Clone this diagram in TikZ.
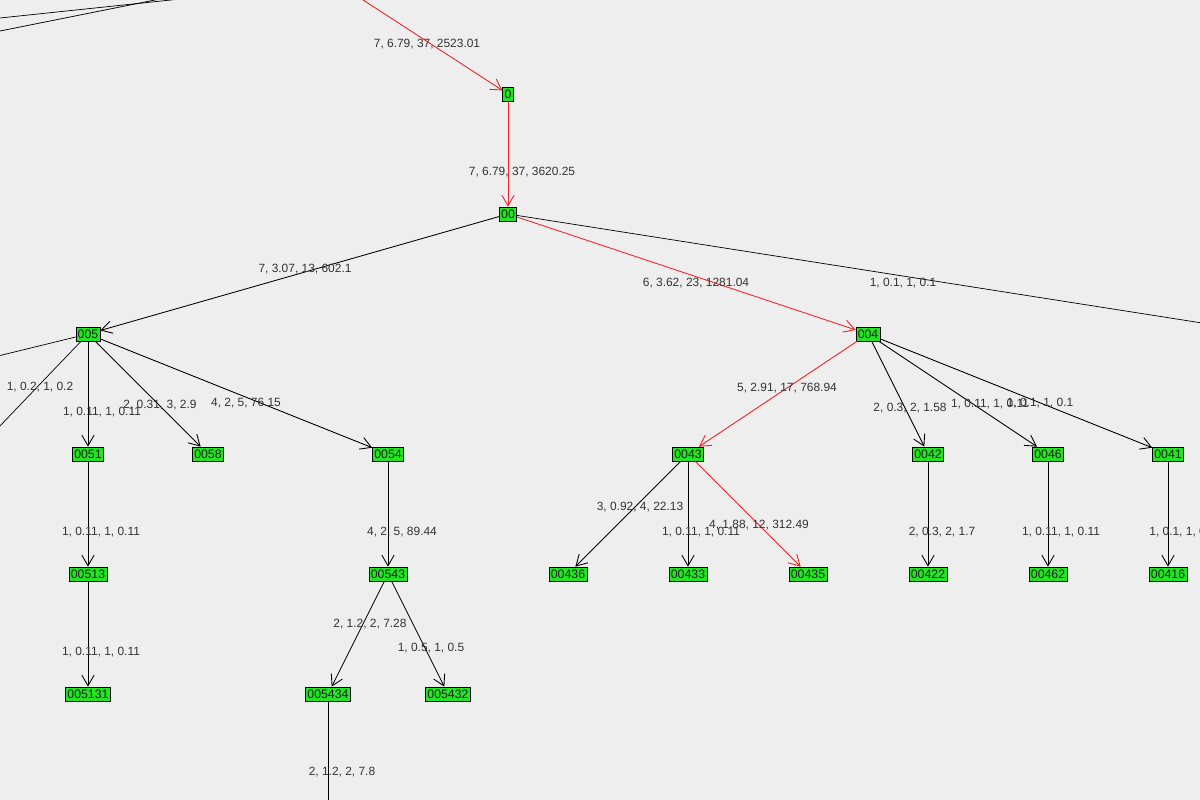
\documentclass[tikz,border=0pt]{standalone}
\usepackage{fontspec}
\setmainfont{Liberation Sans}
\usetikzlibrary{arrows.meta}
\definecolor{bg}{HTML}{EEEEEE}
\definecolor{leaf}{HTML}{22E622}
\definecolor{txt}{HTML}{333333}
\definecolor{hot}{HTML}{EE2222}
\begin{document}
\begin{tikzpicture}[x=0.02cm, y=-0.02cm,
    box/.style={draw, fill=leaf, inner sep=1pt, minimum height=0.28cm, font=\fontsize{7}{8}\selectfont, text=txt!60!black},
    lbl/.style={font=\fontsize{6.8}{8}\selectfont, text=txt, inner sep=0pt},
    arc/.style={-{Straight Barb[angle=60:7pt]}, line width=0.5pt},
    path/.style={arc, draw=hot}]
    \fill[bg] (0,0) rectangle (1200,800);
    \useasboundingbox (0,0) rectangle (1200,800);
    % nodes
    \node[box] (n0) at (508,94) {0};
    \node[box] (n00) at (508,214) {00};
    \node[box] (n005) at (88,334) {005};
    \node[box] (n004) at (868,334) {004};
    \node[box] (n0051) at (88,454) {0051};
    \node[box] (n0058) at (208,454) {0058};
    \node[box] (n0054) at (388,454) {0054};
    \node[box] (n0043) at (688,454) {0043};
    \node[box] (n0042) at (928,454) {0042};
    \node[box] (n0046) at (1048,454) {0046};
    \node[box] (n0041) at (1168,454) {0041};
    \node[box] (n00513) at (88,574) {00513};
    \node[box] (n00543) at (388,574) {00543};
    \node[box] (n00436) at (568,574) {00436};
    \node[box] (n00433) at (688,574) {00433};
    \node[box] (n00435) at (808,574) {00435};
    \node[box] (n00422) at (928,574) {00422};
    \node[box] (n00462) at (1048,574) {00462};
    \node[box] (n00416) at (1168,574) {00416};
    \node[box] (n005131) at (88,694) {005131};
    \node[box] (n005434) at (328,694) {005434};
    \node[box] (n005432) at (448,694) {005432};
    % off-screen ends
    \coordinate (top) at (360,-2);
    \coordinate (ta) at (190,-2);
    \coordinate (tb) at (0,18);
    \coordinate (tc) at (165,-2);
    \coordinate (td) at (0,31);
    \coordinate (la) at (-2,356);
    \coordinate (lb) at (-2,428);
    \coordinate (ra) at (1202,323);
    \coordinate (dn) at (328,802);
    % connectors
    \draw (tb) -- (ta);
    \draw (td) -- (tc);
    \draw[path] (top) -- (n0);
    \draw[path] (n0) -- (n00);
    \draw[arc] (n00) -- (n005);
    \draw[path] (n00) -- (n004);
    \draw (n00) -- (ra);
    \draw (n005) -- (la);
    \draw (n005) -- (lb);
    \draw[arc] (n005) -- (n0051);
    \draw[arc] (n005) -- (n0058);
    \draw[arc] (n005) -- (n0054);
    \draw[path] (n004) -- (n0043);
    \draw[arc] (n004) -- (n0042);
    \draw[arc] (n004) -- (n0046);
    \draw[arc] (n004) -- (n0041);
    \draw[arc] (n0051) -- (n00513);
    \draw[arc] (n0054) -- (n00543);
    \draw[arc] (n0043) -- (n00436);
    \draw[arc] (n0043) -- (n00433);
    \draw[path] (n0043) -- (n00435);
    \draw[arc] (n0042) -- (n00422);
    \draw[arc] (n0046) -- (n00462);
    \draw[arc] (n0041) -- (n00416);
    \draw[arc] (n00513) -- (n005131);
    \draw[arc] (n00543) -- (n005434);
    \draw[arc] (n00543) -- (n005432);
    \draw (n005434) -- (dn);
    % labels
    \node[lbl] (l1) at (427,44) {7, 6.79, 37, 2523.01};
    \node[lbl] (l2) at (522,172) {7, 6.79, 37, 3620.25};
    \node[lbl] (l3) at (305,269) {7, 3.07, 13, 602.1};
    \node[lbl] (l4) at (696,283) {6, 3.62, 23, 1281.04};
    \node[lbl] (l5) at (903,283) {1, 0.1, 1, 0.1};
    \node[lbl] (l6) at (40,387) {1, 0.2, 1, 0.2};
    \node[lbl] (l7) at (102,412) {1, 0.11, 1, 0.11};
    \node[lbl] (l8) at (160,405) {2, 0.31, 3, 2.9};
    \node[lbl] (l9) at (246,403) {4, 2, 5, 76.15};
    \node[lbl] (l10) at (787,388) {5, 2.91, 17, 768.94};
    \node[lbl] (l11) at (910,408) {2, 0.3, 2, 1.58};
    \node[lbl] (l12) at (990,404) {1, 0.11, 1, 0.11};
    \node[lbl] (l13) at (1040,403) {1, 0.1, 1, 0.1};
    \node[lbl] (l14) at (101,532) {1, 0.11, 1, 0.11};
    \node[lbl] (l15) at (402,532) {4, 2, 5, 89.44};
    \node[lbl] (l16) at (640,507) {3, 0.92, 4, 22.13};
    \node[lbl] (l17) at (701,532) {1, 0.11, 1, 0.11};
    \node[lbl] (l18) at (759,525) {4, 1.88, 12, 312.49};
    \node[lbl] (l19) at (942,532) {2, 0.3, 2, 1.7};
    \node[lbl] (l20) at (1061,532) {1, 0.11, 1, 0.11};
    \node[lbl, anchor=west] (l21) at (1149,532) {1, 0.1, 1, 0.1};
    \node[lbl] (l22) at (101,652) {1, 0.11, 1, 0.11};
    \node[lbl] (l23) at (370,624) {2, 1.2, 2, 7.28};
    \node[lbl] (l24) at (431,648) {1, 0.5, 1, 0.5};
    \node[lbl] (l25) at (342,772) {2, 1.2, 2, 7.8};
\end{tikzpicture}
\end{document}
